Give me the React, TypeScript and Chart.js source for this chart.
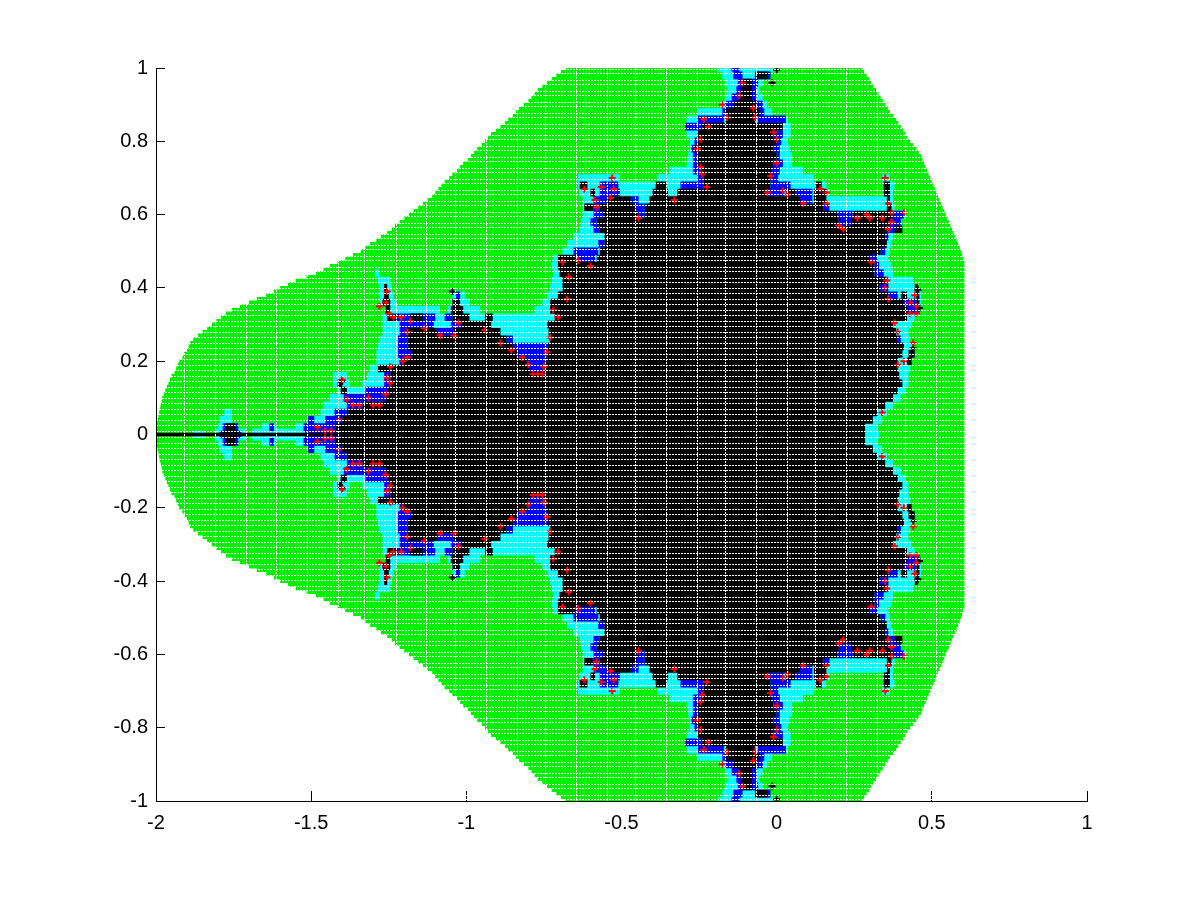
import React, { useEffect, useRef } from "react";
import { Chart, registerables } from "chart.js";

Chart.register(...registerables);

const rowY = [0, .02, .04, .06, .08, .1, .12, .14, .16, .18, .2, .22, .24, .26, .28, .3, .32, .34, .36, .38, .4, .42, .44, .46, .48, .5, .52, .54, .56, .58, .6, .62, .64, .66, .68, .7, .72, .74, .76, .78, .8, .82, .84, .86, .88, .9, .92, .94, .96, .98, 1];

const greenY = [0, .01, .02, .03, .04, .05, .06, .07, .08, .09, .1, .11, .12, .13, .14, .15, .16, .17, .18, .19, .2, .21, .22, .23, .24, .25, .26, .27, .28, .29, .3, .31, .32, .33, .34, .35, .36, .37, .38, .39, .4, .41, .42, .43, .44, .45, .46, .47, .48, .49, .5, .51, .52, .53, .54, .55, .56, .57, .58, .59, .6, .61, .62, .63, .64, .65, .66, .67, .68, .69, .7, .71, .72, .73, .74, .75, .76, .77, .78, .79, .8, .81, .82, .83, .84, .85, .86, .87, .88, .89, .9, .91, .92, .93, .94, .95, .96, .97, .98, .99, 1];
const greenLeft = [-2, -2, -2, -1.998, -1.995, -1.992, -1.99, -1.988, -1.985, -1.982, -1.98, -1.975, -1.97, -1.965, -1.96, -1.955, -1.95, -1.94, -1.935, -1.93, -1.925, -1.915, -1.91, -1.9, -1.895, -1.89, -1.88, -1.865, -1.85, -1.835, -1.82, -1.805, -1.79, -1.775, -1.755, -1.73, -1.7, -1.675, -1.645, -1.62, -1.6, -1.575, -1.55, -1.515, -1.485, -1.46, -1.44, -1.415, -1.39, -1.365, -1.34, -1.325, -1.31, -1.29, -1.275, -1.255, -1.24, -1.23, -1.215, -1.2, -1.185, -1.17, -1.155, -1.14, -1.125, -1.11, -1.1, -1.09, -1.08, -1.07, -1.055, -1.045, -1.03, -1.02, -1.01, -.995, -.985, -.975, -.965, -.95, -.94, -.93, -.92, -.905, -.89, -.875, -.865, -.85, -.84, -.83, -.815, -.8, -.79, -.78, -.77, -.755, -.74, -.725, -.71, -.695, -.68];
const greenRight = [.605, .605, .605, .605, .605, .605, .605, .605, .605, .605, .605, .605, .605, .605, .605, .605, .605, .605, .605, .605, .605, .605, .605, .605, .605, .605, .605, .605, .605, .605, .605, .605, .605, .605, .605, .605, .605, .605, .605, .605, .605, .605, .605, .605, .605, .605, .605, .605, .6, .598, .595, .59, .585, .58, .575, .57, .565, .56, .555, .55, .545, .54, .535, .53, .525, .52, .515, .51, .505, .5, .495, .49, .485, .48, .475, .47, .465, .458, .45, .44, .43, .422, .415, .408, .4, .392, .385, .375, .365, .358, .35, .342, .335, .328, .32, .312, .305, .298, .29, .282, .275];

const cyanRows = [
  [-1.88, -1.84, -1.8, -1.72, -1.66, -1.4, .285, .33], [-1.8, -1.74, -1.66, -1.615, -1.55, .325], [-1.795, -1.755, -1.505, .34], [-1.78, -1.755, -1.47, .355],
  [-1.46, .375], [-1.44, .4], [-1.415, .415], [-1.43, -1.375, -1.335, .425], [-1.43, -1.385, -1.32, .425], [-1.31, .43],
  [-1.29, .435], [-1.29, .445], [-1.285, .435], [-1.28, .43], [-1.27, .425], [-1.27, .435], [-1.27, .445],
  [-1.26, -1.085, -1.06, -.955, -.78, .46], [-1.28, -1.225, -1.05, -.99, -.755, .465], [-1.28, -1.235, -1.045, -1.005, -.74, .465],
  [-1.28, -1.24, -.73, .455], [-1.285, -1.245, -.725, .44], [-1.295, -1.28, -.72, .375], [-.725, .37], [-.72, .36], [-.69, .365], [-.675, .37], [-.655, .375],
  [-.635, .4], [-.63, .4], [-.625, .415], [-.625, .38], [-.625, .375], [-.635, .17, .345, .375], [-.64, .16, .355, .38], [-.64, -.505, -.385, .12, .34, .365],
  [-.345, .085], [-.29, .05], [-.285, .05], [-.28, .04], [-.28, .035], [-.29, .045], [-.295, .045], [-.29, .035], [-.255, -.015], [-.18, -.03],
  [-.165, -.045], [-.16, -.055], [-.165, -.045], [-.175, -.03], [-.19, -.01],
];

const blueRows = [
  [-1.795, -1.725, -1.52, -1.41], [-1.785, -1.735, -1.635, -1.62, -1.525, -1.42], [-1.51, -1.49, -1.455, -1.4], [-1.425, -1.385], [-1.385, -1.335], [-1.395, -1.26], [-1.325, -1.255], [-1.265, -1.245], [-1.265, -1.245], [-1.245, -1.23, -.795, -.755],
  [-1.215, -1.205, -.805, -.745], [-1.22, -1.175, -.835, -.74], [-1.22, -1.19, -.85, -.74], [-1.22, -1.19, -.87, -.85, .39, .4], [-1.215, -1.185, -1.095, -1.04], [-1.215, -1.105, -1.05, -.99], [-1.225, -1.1, -1.07, -1.045],
  [.42, .46], [.41, .45], [-1.035, -1.02, .36, .39], [.33, .36], [.355, .36], [.315, .345], [.315, .33], [-.65, -.585, .3, .325], [-.655, -.575, .335, .35], [-.575, -.555], [.35, .36],
  [-.59, -.57, .355, .385], [-.6, -.58, .2, .24, .365, .4], [-.59, -.56, -.45, -.425, .195, .245, .375, .41], [-.59, -.57, -.455, -.425, .15, .17], [-.59, -.545, -.47, -.445, .075, .115],
  [-.57, -.505, -.03, .025, .06, .115], [-.57, -.51, -.31, -.235, -.02, .045], [-.255, -.235, -.02, .005], [-.27, -.245, -.015, .01], [-.27, -.255, -.01, .02], [-.27, -.255, 0, .01], [-.275, -.265, -.01, .01],
  [-.265, -.255, 0, .015], [-.01, .02], [-.295, -.24], [-.255, -.17, -.06, .03], [-.175, -.04], [-.165, -.045], [-.145, -.065], [-.13, -.065], [-.125, -.06], [-.14, -.11, -.07, -.02], [-.145, -.12],
];

const blackRows = [
  [-1.785, -1.735, -1.41, .285], [-1.775, -1.745, -1.42, .285], [-1.4, .31], [-1.385, .325], [-1.335, .35], [-1.26, .375], [-1.405, -1.385, -1.255, .39], [-1.415, -1.4, -1.245, .405], [-1.245, .395],
  [-1.285, -1.245, -1.24, -.795, -.755, .39], [-1.205, -.805, -.745, .39, .42, .435], [-1.175, -.835, -.74, .405, .425, .445], [-1.19, -.85, -.74, .41], [-1.19, -.87, -.73, .39],
  [-1.19, -1.095, -1.04, -.89, -.735, .385], [-1.015, -.92, -.74, .375], [-1.255, -1.225, -1.18, -1.14, -1.045, -.99, -.94, -.915, -.715, .42], [-1.26, -1.245, -1.05, -1.01, -.73, .42],
  [-1.27, -1.245, -1.045, -1.02, -.73, .41, .45, .46], [-1.265, -1.25, -.705, .36, .4, .42, .45, .46], [-1.265, -1.255, -.69, .33, .445, .455], [-.69, .355], [-.7, .315], [-.705, .315],
  [-.705, -.65, -.58, .3], [-.57, .335], [-.555, .355], [-.555, .35], [-.57, .355, .38, .405], [-.58, .2, .24, .365], [-.56, -.45, -.425, .195, .245, .375], [-.62, -.59, -.57, -.455, -.425, .15, .355, .37],
  [-.545, -.47, -.41, .075, .12, .16, .355, .365], [-.6, -.585, -.4, -.35, -.32, -.03, .03, .06, .12, .16, .345, .365], [-.635, -.61, -.39, -.355, -.235, -.02, .125, .145, .345, .365],
  [-.235, -.02], [-.245, -.015], [-.255, -.01], [-.255, 0], [-.265, -.01], [-.255, 0], [-.255, -.01], [-.24, .02], [-.165, -.07], [-.165, -.055], [-.14, -.065], [-.12, -.08], [-.115, -.08], [-.115, -.08], [-.07, -.03], [],
];

const antennaSpan = [-2, -1.41];
const haloSpans = [-1.81, -1.71, -1.69, -1.4];

const redX = [-.11, -.12, -.175, -.075, -.16, -.07, -.235, -.22, -.01, -.245, 0, -.255, 0, -.245, -.24, -.02, -.225, -.03, -.53, -.62, -.565, -.525, -.585, -.535, -.33, -.58, -.445, .085, .16, .16, .035, .2, -1.255, -1.26, -1.28, -1.25, -1.235, -1.21, -1.18, -1.135, -1.085, -1.04, -1.025, -.94, -.89, -.855, -.82, -.8, -.785, -.77, -.755, -.75, -.74, -.73, -.705, -.72, -.675, -.67, -.69, -.64, -.6, -1.19, -1.19, -1.205, -1.245, -1.255, -1.245, -1.26, -1.28, -1.3, -1.4, -1.385, -1.365, -1.345, -1.315, -1.41, -1.48, -1.455, -1.435, .35, .36, .26, .29, .3, .34, .37, .41, .37, .36, .14, .215, .02, .305, .35, .355, .36, .445, .43, .45, .43, .45, .38, .39, .44, .41, .39, .34];
const redY = [.96, .925, .9, .89, .865, .865, .86, .84, .825, .805, .805, .78, .74, .73, .71, .705, .675, .66, .7, .67, .675, .67, .64, .645, .64, .62, .59, .63, .66, .63, .655, .57, .39, .36, .35, .33, .32, .32, .31, .29, .27, .27, .305, .285, .25, .23, .21, .19, .165, .165, .165, .185, .225, .265, .32, .34, .37, .43, .47, .475, .46, .28, .21, .2, .185, .155, .14, .11, .08, .08, .15, .095, .08, .08, .1, .04, .02, .01, .01, .7, .63, .59, .6, .59, .59, .605, .605, .58, .56, .67, .56, .665, .47, .4, .42, .37, .38, .36, .35, .33, .33, .305, .28, .25, .2, .19, .06];

const dotX = [0, .455, .46, .44, -1.4, -.015, -1.045];
const dotY = [.995, .395, .345, .235, .145, .96, .39];

const gapX = [-1.907, -1.807, -1.707, -1.613, -1.513, -1.413, -1.327, -1.224, -1.127, -1.036, -.934, -.834, -.746, -.646, -.546, -.455, -.355, -.256, -.166, -.065, .036, .124, .225, .325, .414, .515];
const gapY = [.007, .025, .037, .055, .067, .085, .097, .115, .127, .145, .157, .175, .187, .205, .217, .235, .247, .265, .277, .295, .307, .325, .337, .355, .367, .385, .397, .415, .427, .445, .457, .475, .487, .505, .517, .535, .547, .565, .577, .595, .607, .625, .637, .655, .667, .685, .697, .715, .727, .745, .757, .775, .787, .805, .817, .835, .847, .865, .877, .895, .907, .925, .937, .955, .967, .985, .997];

const xTicks = [-2, -1.5, -1, -.5, 0, .5, 1];
const yTicks = [-1, -.8, -.6, -.4, -.2, 0, .2, .4, .6, .8, 1];

const GREEN = "#00f000";
const CYAN = "#00ffff";
const BLUE = "#0000ff";
const RED = "#ff0000";
const BLACK = "#000000";

function spansToLine(rows: number[][], ys: number[]) {
  const out: { x: number; y: number }[] = [];
  rows.forEach((flat, r) => {
    const y = ys[r];
    const signs = y === 0 ? [1] : [1, -1];
    signs.forEach((s) => {
      for (let i = 0; i + 1 < flat.length; i += 2) {
        out.push({ x: flat[i], y: s * y }, { x: flat[i + 1], y: s * y }, { x: NaN, y: NaN });
      }
    });
  });
  return out;
}

function marks(xs: number[], ys: number[]) {
  const out: { x: number; y: number }[] = [];
  xs.forEach((x, i) => {
    out.push({ x, y: ys[i] }, { x, y: -ys[i] });
  });
  return out;
}

function band(label: string, rows: number[][], ys: number[], color: string, width: number) {
  return {
    label,
    data: spansToLine(rows, ys),
    showLine: true,
    borderColor: color,
    backgroundColor: color,
    borderWidth: width,
    borderCapStyle: "butt" as const,
    pointRadius: 0,
    spanGaps: false,
    fill: false,
  };
}

function plus(label: string, xs: number[], ys: number[], color: string) {
  return {
    label,
    data: marks(xs, ys),
    showLine: false,
    pointStyle: "cross" as const,
    pointRadius: 3.5,
    pointBorderWidth: 2,
    pointBorderColor: color,
    pointBackgroundColor: color,
  };
}

export default function App() {
  const ref = useRef<HTMLCanvasElement | null>(null);
  useEffect(() => {
    document.body.style.margin = "0";
    document.body.style.background = "#fff";
    const greenRows = greenLeft.map((x, i) => [x, greenRight[i]]);
    const chart = new Chart(ref.current as HTMLCanvasElement, {
      type: "scatter",
      data: {
        datasets: [
          plus("red", redX, redY, RED),
          plus("dots", dotX, dotY, BLACK),
          {
            label: "antenna",
            data: [{ x: antennaSpan[0], y: 0 }, { x: antennaSpan[1], y: 0 }],
            showLine: true,
            borderColor: BLACK,
            borderWidth: 3.5,
            borderCapStyle: "butt",
            pointRadius: 0,
          },
          band("black", blackRows, rowY, BLACK, 7.6),
          band("blue", blueRows, rowY, BLUE, 7.6),
          band("halo", [haloSpans], [0], CYAN, 12),
          band("cyan", cyanRows, rowY, CYAN, 7.6),
          band("green", greenRows, greenY, GREEN, 4),
        ] as any,
      },
      options: {
        responsive: false,
        animation: false,
        events: [],
        layout: { padding: { left: 0, top: 68, right: 114, bottom: 0 } },
        plugins: { legend: { display: false }, tooltip: { enabled: false }, title: { display: false } },
        scales: {
          x: {
            type: "linear",
            position: "bottom",
            min: -2,
            max: 1,
            afterFit: (s: any) => { s.height = 99; },
            afterBuildTicks: (s: any) => { s.ticks = xTicks.map((value) => ({ value })); },
            grid: { drawOnChartArea: false, tickLength: -10, color: BLACK, tickWidth: 1 },
            border: { display: true, color: BLACK, width: 1, z: 2 },
            ticks: { color: BLACK, padding: 20, maxRotation: 0, autoSkip: false, font: { family: "'Liberation Sans'", size: 20 }, callback: (v: any) => String(v) },
          },
          y: {
            type: "linear",
            position: "left",
            min: -1,
            max: 1,
            afterFit: (s: any) => { s.width = 156; },
            afterBuildTicks: (s: any) => { s.ticks = yTicks.map((value) => ({ value })); },
            grid: { drawOnChartArea: false, tickLength: -9, color: BLACK, tickWidth: 1 },
            border: { display: true, color: BLACK, width: 1, z: 2 },
            ticks: { color: BLACK, padding: 17, autoSkip: false, font: { family: "'Liberation Sans'", size: 20 }, callback: (v: any) => String(v) },
          },
          xw: {
            type: "linear",
            position: "bottom",
            min: -2,
            max: 1,
            afterFit: (s: any) => { s.height = 0; },
            afterBuildTicks: (s: any) => { s.ticks = gapX.map((value) => ({ value })); },
            grid: { z: 1, color: "#ffffff", lineWidth: 1, drawTicks: false },
            border: { display: false, dash: [2, 1] },
            ticks: { display: false, autoSkip: false },
          },
          yw: {
            type: "linear",
            position: "left",
            min: -1,
            max: 1,
            afterFit: (s: any) => { s.width = 0; },
            afterBuildTicks: (s: any) => {
              s.ticks = gapY.concat(gapY.map((v) => -v)).map((value) => ({ value }));
            },
            grid: { z: 1, color: "#ffffff", lineWidth: 1, drawTicks: false },
            border: { display: false, dash: [2, 1] },
            ticks: { display: false, autoSkip: false },
          },
        },
      } as any,
    });
    return () => chart.destroy();
  }, []);
  return <canvas ref={ref} width={1201} height={900} style={{ display: "block" }} />;
}
